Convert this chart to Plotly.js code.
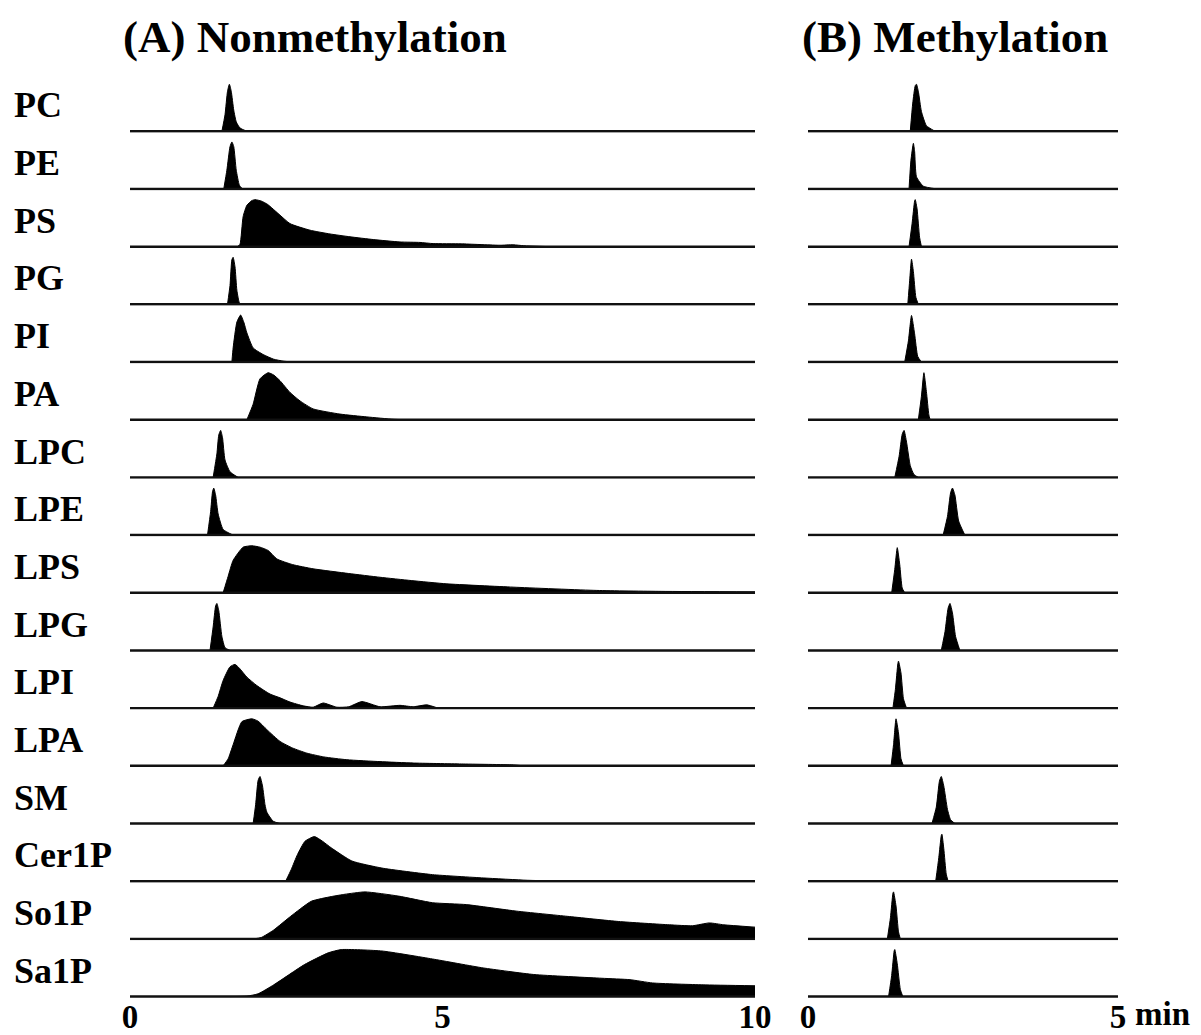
<!DOCTYPE html>
<html>
<head>
<meta charset="utf-8">
<script src="https://cdn.plot.ly/plotly-3.0.1.min.js"></script>
<style>html,body{margin:0;padding:0;background:#fff;}#chart{width:1201px;height:1035px;}</style>
</head>
<body>
<div id="chart"></div>
<script>
// Row labels (top to bottom)
const lipids = ['PC','PE','PS','PG','PI','PA','LPC','LPE','LPS','LPG','LPI','LPA','SM','Cer1P','So1P','Sa1P'];
const ticksA = [0, 5, 10];
const ticksB = [0, 5];
const titleA = '(A) Nonmethylation';
const titleB = '(B) Methylation';

// (A) Nonmethylation chromatograms: [time (min), normalized intensity]
const PC_A = [[1.47,0],[1.52,0.35],[1.56,0.85],[1.59,1],[1.62,0.85],[1.66,0.45],[1.70,0.2],[1.76,0.07],[1.87,0]];
const PE_A = [[1.50,0],[1.55,0.4],[1.60,0.9],[1.63,1],[1.66,0.9],[1.70,0.4],[1.75,0.08],[1.80,0]];
const PS_A = [[1.72,0],[1.76,0.05],[1.81,0.64],[1.87,0.88],[1.95,0.98],[2.0,1],[2.1,0.97],[2.2,0.9],[2.4,0.67],[2.56,0.49],[2.88,0.35],[3.2,0.27],[3.52,0.21],[3.9,0.15],[4.32,0.10],[4.64,0.09],[4.85,0.065],[5.3,0.06],[5.92,0.03],[6.13,0.04],[6.3,0.02],[6.72,0]];
const PG_A = [[1.56,0],[1.60,0.4],[1.63,0.95],[1.65,1],[1.68,0.8],[1.71,0.3],[1.75,0.03],[1.78,0]];
const PI_A = [[1.63,0],[1.65,0.3],[1.71,0.85],[1.77,1],[1.82,0.85],[1.87,0.62],[1.97,0.3],[2.13,0.16],[2.3,0.06],[2.45,0.02],[2.6,0]];
const PA_A = [[1.87,0],[1.97,0.33],[2.08,0.87],[2.21,1],[2.3,0.95],[2.4,0.83],[2.56,0.58],[2.72,0.40],[2.93,0.23],[3.36,0.12],[3.79,0.06],[4.21,0.01],[4.4,0]];
const LPC_A = [[1.33,0],[1.39,0.5],[1.42,0.9],[1.45,1],[1.48,0.85],[1.52,0.37],[1.6,0.12],[1.73,0]];
const LPE_A = [[1.24,0],[1.29,0.5],[1.32,0.92],[1.34,1],[1.37,0.85],[1.41,0.45],[1.49,0.12],[1.65,0]];
const LPS_A = [[1.49,0],[1.57,0.35],[1.65,0.69],[1.81,0.97],[1.95,1],[2.08,0.97],[2.21,0.9],[2.35,0.72],[2.6,0.6],[2.93,0.51],[3.5,0.41],[4.0,0.33],[4.5,0.26],[5.07,0.19],[6.13,0.12],[7.47,0.05],[8.5,0.03],[10,0.02]];
const LPG_A = [[1.28,0],[1.33,0.5],[1.37,0.95],[1.39,1],[1.42,0.85],[1.47,0.3],[1.52,0.06],[1.6,0]];
const LPI_A = [[1.33,0],[1.41,0.25],[1.49,0.59],[1.6,0.88],[1.68,0.93],[1.75,0.85],[1.87,0.66],[2.03,0.48],[2.24,0.30],[2.4,0.22],[2.56,0.13],[2.77,0.05],[2.93,0.02],[3.09,0.11],[3.31,0.02],[3.5,0.03],[3.71,0.14],[4.0,0.03],[4.32,0.06],[4.53,0.03],[4.75,0.07],[4.93,0]];
const LPA_A = [[1.49,0],[1.57,0.15],[1.65,0.45],[1.79,0.94],[1.95,1],[2.05,0.95],[2.19,0.77],[2.4,0.52],[2.6,0.38],[2.83,0.27],[3.1,0.19],[3.47,0.13],[4.0,0.09],[4.53,0.06],[5.3,0.04],[6.13,0.02],[6.3,0]];
const SM_A = [[1.97,0],[2.01,0.4],[2.05,0.92],[2.08,1],[2.12,0.8],[2.16,0.4],[2.19,0.24],[2.29,0.05],[2.4,0]];
const Cer1P_A = [[2.49,0],[2.58,0.25],[2.68,0.57],[2.8,0.85],[2.95,0.95],[3.08,0.85],[3.22,0.71],[3.55,0.43],[4.03,0.28],[4.84,0.14],[5.65,0.07],[6.36,0.02],[7.0,0]];
const So1P_A = [[1.98,0],[2.1,0.03],[2.3,0.19],[2.57,0.48],[2.9,0.80],[3.22,0.90],[3.44,0.95],[3.76,1.0],[4.3,0.91],[4.84,0.77],[5.38,0.73],[6.19,0.59],[7.0,0.48],[7.82,0.37],[8.63,0.30],[9.0,0.28],[9.27,0.34],[9.5,0.3],[10,0.25]];
const Sa1P_A = [[1.6,0],[1.87,0.01],[2.05,0.06],[2.3,0.25],[2.79,0.68],[3.17,0.93],[3.38,1.0],[4.03,0.97],[4.84,0.8],[5.65,0.61],[6.46,0.47],[7.55,0.39],[8.0,0.36],[8.36,0.29],[9.17,0.25],[10,0.23]];

// (B) Methylation chromatograms: [time (min), normalized intensity]
const PC_B = [[1.65,0],[1.69,0.6],[1.73,0.97],[1.75,1],[1.78,0.85],[1.83,0.42],[1.91,0.12],[2.05,0]];
const PE_B = [[1.63,0],[1.66,0.6],[1.70,0.97],[1.72,0.8],[1.75,0.26],[1.86,0.06],[2.08,0]];
const PS_B = [[1.63,0],[1.68,0.5],[1.72,0.97],[1.73,1],[1.76,0.8],[1.80,0.2],[1.83,0]];
const PG_B = [[1.61,0],[1.64,0.5],[1.67,0.96],[1.70,0.7],[1.74,0.15],[1.78,0]];
const PI_B = [[1.56,0],[1.62,0.45],[1.67,0.99],[1.72,0.6],[1.77,0.12],[1.83,0]];
const PA_B = [[1.78,0],[1.83,0.5],[1.87,1],[1.91,0.6],[1.95,0.1],[1.97,0]];
const LPC_B = [[1.40,0],[1.47,0.45],[1.52,0.92],[1.55,1],[1.59,0.75],[1.65,0.25],[1.71,0.06],[1.78,0]];
const LPE_B = [[2.18,0],[2.25,0.4],[2.30,0.9],[2.33,1],[2.37,0.85],[2.43,0.3],[2.53,0]];
const LPS_B = [[1.35,0],[1.40,0.5],[1.44,0.96],[1.48,0.6],[1.52,0.1],[1.56,0]];
const LPG_B = [[2.15,0],[2.21,0.4],[2.26,0.9],[2.29,1],[2.33,0.8],[2.38,0.3],[2.45,0]];
const LPI_B = [[1.37,0],[1.41,0.4],[1.45,0.95],[1.46,1],[1.50,0.75],[1.54,0.2],[1.59,0]];
const LPA_B = [[1.34,0],[1.38,0.45],[1.42,1],[1.46,0.7],[1.50,0.15],[1.54,0]];
const SM_B = [[2.0,0],[2.07,0.35],[2.12,0.9],[2.15,1],[2.19,0.8],[2.25,0.3],[2.3,0.08],[2.37,0]];
const Cer1P_B = [[2.06,0],[2.11,0.5],[2.15,0.97],[2.16,1],[2.19,0.7],[2.23,0.15],[2.26,0]];
const So1P_B = [[1.28,0],[1.33,0.45],[1.37,0.97],[1.38,1],[1.42,0.7],[1.46,0.15],[1.49,0]];
const Sa1P_B = [[1.30,0],[1.35,0.45],[1.39,0.97],[1.40,1],[1.44,0.7],[1.49,0.15],[1.53,0]];

const seriesA = [PC_A,PE_A,PS_A,PG_A,PI_A,PA_A,LPC_A,LPE_A,LPS_A,LPG_A,LPI_A,LPA_A,SM_A,Cer1P_A,So1P_A,Sa1P_A];
const seriesB = [PC_B,PE_B,PS_B,PG_B,PI_B,PA_B,LPC_B,LPE_B,LPS_B,LPG_B,LPI_B,LPA_B,SM_B,Cer1P_B,So1P_B,Sa1P_B];

const FONT = '"Liberation Serif", "Times New Roman", Times, serif';
const nRows = lipids.length;
const yRange = [-0.03, 1.197];

const layout = {
  width: 1201, height: 1035,
  margin: {l: 130, r: 83, t: 75, b: 37, pad: 0},
  paper_bgcolor: '#fff', plot_bgcolor: '#fff',
  showlegend: false,
  font: {family: FONT, color: '#000'},
  xaxis: {domain: [0, 0.6326], range: [ticksA[0], ticksA[ticksA.length-1]], anchor: 'y' + nRows,
          tickvals: ticksA, ticktext: ticksA.map(String), showgrid: false, zeroline: false, showline: false,
          ticks: '', ticklabelstandoff: -4, tickfont: {family: FONT, size: 33, color: '#000', weight: 'bold'}, fixedrange: true},
  xaxis2: {domain: [0.6862, 1], range: [ticksB[0], ticksB[ticksB.length-1]], anchor: 'y' + (2*nRows),
          tickvals: ticksB, ticktext: ticksB.map(String), showgrid: false, zeroline: false, showline: false,
          ticks: '', ticklabelstandoff: -4, tickfont: {family: FONT, size: 33, color: '#000', weight: 'bold'}, fixedrange: true},
  shapes: [],
  annotations: [
    {text: '<b>' + titleA + '</b>', xref: 'paper', yref: 'paper', x: 0.187, y: 1.0412, xanchor: 'center', yanchor: 'middle',
     showarrow: false, font: {family: FONT, size: 45, color: '#000'}},
    {text: '<b>' + titleB + '</b>', xref: 'paper', yref: 'paper', x: 0.835, y: 1.0412, xanchor: 'center', yanchor: 'middle',
     showarrow: false, font: {family: FONT, size: 45, color: '#000'}},
    {text: '<b>min</b>', xref: 'x2', yref: 'paper', x: ticksB[ticksB.length-1], xshift: 15, y: -0.0175, xanchor: 'left', yanchor: 'middle',
     showarrow: false, font: {family: FONT, size: 33, color: '#000'}}
  ]
};

const traces = [];
lipids.forEach((name, i) => {
  const dom = [1 - (i + 1) / nRows, 1 - i / nRows];
  const panels = [
    {data: seriesA[i], n: i + 1, xa: 'x', xmax: ticksA[ticksA.length-1]},
    {data: seriesB[i], n: i + 1 + nRows, xa: 'x2', xmax: ticksB[ticksB.length-1]}
  ];
  panels.forEach(p => {
    const yname = p.n === 1 ? 'y' : 'y' + p.n;
    layout[p.n === 1 ? 'yaxis' : 'yaxis' + p.n] = {
      domain: dom, range: yRange, anchor: p.xa, visible: false, fixedrange: true
    };
    traces.push({
      type: 'scatter', mode: 'lines', name: name,
      x: p.data.map(d => d[0]), y: p.data.map(d => d[1]),
      xaxis: p.xa, yaxis: yname,
      fill: 'tozeroy', fillcolor: '#000',
      line: {color: '#000', width: 1, shape: 'spline', smoothing: 0.5},
      hoverinfo: 'skip'
    });
    layout.shapes.push({
      type: 'line', xref: p.xa, yref: yname, x0: 0, x1: p.xmax, y0: 0, y1: 0,
      line: {color: '#111', width: 2.5}
    });
  });
  layout.annotations.push({
    text: '<b>' + name + '</b>', xref: 'paper', yref: 'y' + (i === 0 ? '' : i + 1),
    x: -0.1194, y: 0.55, xanchor: 'left', yanchor: 'middle', showarrow: false,
    font: {family: FONT, size: 36, color: '#000'}
  });
});

Plotly.newPlot('chart', traces, layout, {displayModeBar: false, staticPlot: true});
</script>
</body>
</html>
